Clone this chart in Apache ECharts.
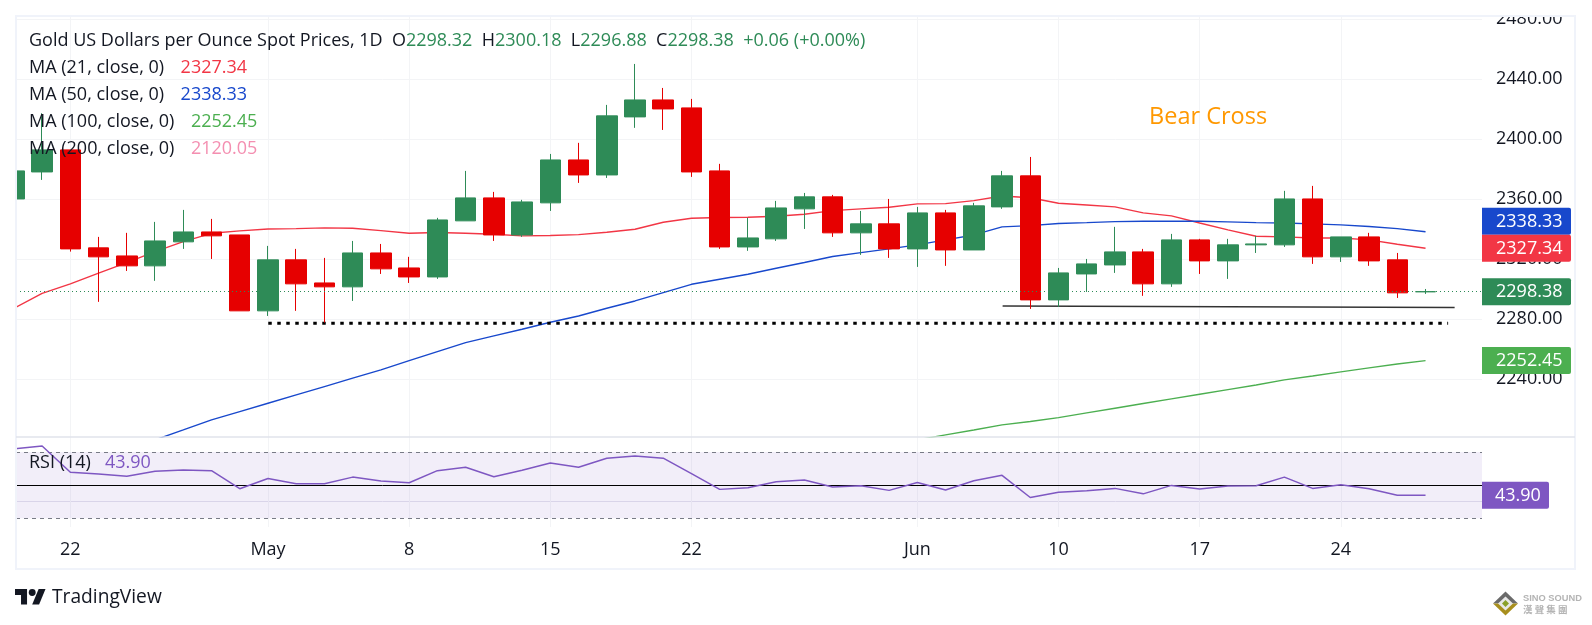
<!DOCTYPE html>
<html>
<head>
<meta charset="utf-8">
<title>Gold spot daily</title>
<style>
  html, body { margin: 0; padding: 0; background: #fff; }
  #main { width: 1592px; height: 625px; }
</style>
<script src="https://cdn.jsdelivr.net/npm/echarts@6/dist/echarts.min.js"></script>
</head>
<body>
<div id="main"></div>
<script>
const dates = ['Apr 18','Apr 19','Apr 22','Apr 23','Apr 24','Apr 25','Apr 26','Apr 29','Apr 30','May 1','May 2','May 3','May 6','May 7','May 8','May 9','May 10','May 13','May 14','May 15','May 16','May 17','May 20','May 21','May 22','May 23','May 24','May 27','May 28','May 29','May 30','May 31','Jun 3','Jun 4','Jun 5','Jun 6','Jun 7','Jun 10','Jun 11','Jun 12','Jun 13','Jun 14','Jun 17','Jun 18','Jun 19','Jun 20','Jun 21','Jun 24','Jun 25','Jun 26','Jun 27'];
const opens = [2360.2,2378.2,2392.9,2327.6,2322.2,2315.6,2331.6,2338.2,2336.2,2285.6,2319.6,2304.2,2301.6,2324.2,2314.2,2308.2,2345.6,2360.9,2336.2,2357.6,2386.2,2376.2,2414.9,2426.2,2420.9,2378.9,2328.2,2333.6,2353.6,2361.6,2337.6,2343.6,2326.9,2350.9,2326.2,2354.9,2375.6,2292.9,2310.2,2316.2,2324.9,2303.6,2332.9,2318.9,2329.6,2329.6,2360.2,2321.6,2334.9,2319.6,2298.32];
const closes = [2378.9,2392.9,2326.9,2321.6,2315.6,2332.2,2338.2,2335.6,2285.6,2319.6,2303.6,2301.6,2324.2,2313.6,2308.2,2346.2,2360.9,2336.2,2358.2,2386.2,2376.2,2415.6,2426.2,2420.2,2378.2,2328.2,2334.2,2354.2,2361.6,2337.6,2343.6,2326.9,2350.9,2326.2,2355.6,2375.6,2292.9,2310.9,2316.9,2324.9,2303.6,2332.9,2318.9,2329.6,2330.2,2360.2,2321.6,2334.9,2318.9,2297.6,2298.38];
const lows = [2358,2372.9,2325.1,2291.6,2312.2,2305.6,2326.9,2320.2,2285.6,2282.2,2285.6,2277.8,2292.2,2310.2,2304.2,2306.9,2345.6,2332.2,2334.9,2352.2,2370.9,2374.2,2407.6,2406.2,2374.9,2326.9,2325.6,2332.2,2340.2,2334.9,2322.9,2320.9,2314.9,2315.6,2326.2,2353.6,2286.9,2288.2,2298.2,2310.9,2295.6,2301.6,2310.2,2306.9,2324.2,2328.2,2316.9,2318.2,2315.6,2294.2,2296.88];
const highs = [2380,2417.3,2392.9,2334.9,2337.6,2344.9,2352.9,2346.9,2336.2,2328.9,2326.9,2320.9,2332.2,2330.2,2321.6,2347.6,2378.9,2364.9,2359.6,2390.2,2397.6,2422.9,2450.2,2434.2,2426.9,2383.6,2347.6,2358.9,2364.2,2362.9,2352.2,2360.2,2354.9,2352.9,2357.6,2378.9,2388.2,2314.2,2320.2,2341.6,2326.9,2336.9,2333.6,2333.6,2335.6,2365.6,2368.9,2334.9,2337.6,2324.2,2300.18];

const ma21 = [2287.3,2297.3,2303.6,2310.7,2317.8,2325.1,2331.8,2337.3,2338.9,2340.2,2340.4,2340.9,2340.7,2339.1,2337.3,2337.8,2337.3,2336.7,2335.6,2335.8,2336.4,2338,2340,2344.7,2347.3,2347.8,2348,2348.7,2350,2352.4,2353.6,2354.7,2356.9,2357.1,2359.1,2362.2,2361,2357.3,2356.2,2354.9,2350.9,2348.9,2344.2,2339.6,2335.3,2334.9,2334.2,2334.2,2332.9,2330,2327.34];
const ma50Start = 4;
const ma50 = [2192.9,2199.6,2206.2,2212.9,2218.4,2224,2229.6,2235.1,2240.7,2246.2,2252.4,2258.4,2264.4,2268.9,2273.3,2278,2282.2,2287.3,2292.2,2297.8,2303.3,2306.7,2310,2314,2317.8,2321.8,2324.4,2326.9,2329.6,2332.9,2336.2,2341.6,2342.4,2343.8,2344.4,2345.1,2345.3,2345.3,2345.3,2344.9,2344.4,2344.2,2343.6,2342.9,2341.8,2340.4,2338.33];
const ma100Start = 32;
const ma100 = [2199.6,2202.9,2206.2,2209.6,2211.8,2214.4,2217.6,2220.7,2223.8,2226.9,2230,2233.1,2236.2,2239.6,2242.2,2244.9,2247.6,2250.2,2252.45];
const rsi = [71.8,73.6,57.7,56.7,55.3,58.3,59.1,58.7,47.8,54,50.8,50.8,54.8,52.4,51.4,58.7,60.7,55,58.9,63.3,60.7,66.2,67.6,66.2,56.9,47.4,48.4,52,53,48.8,49.6,46.8,51.6,47,52.6,55.9,42.5,45.6,46.6,48,44.7,49.8,47.6,49.4,49.6,54.8,48,50.2,47.8,43.9,43.9];

const priceTicks = [2240,2280,2320,2360,2400,2440,2480];
const tickDates = ['Apr 22','May 1','May 8','May 15','May 22','Jun 3','Jun 10','Jun 17','Jun 24'];
const tickLabels = ['22','May','8','15','22','Jun','10','17','24'];

// drawn on the chart by hand in the original: [x index, price]
const supportDotted = [[9.01,2277.3],[50.8,2277.3]];
const supportLine = [[35.02,2288.9],[51.03,2287.8]];

const tagValues = [2338.33,2327.34,2298.38,2252.45];
const tagColors = ['#1848cc','#f23645','#2e8b57','#4caf50'];
const rsiLast = 43.90;

const upColor = '#2e8b57';
const downColor = '#e60000';
const gridColor = '#f3f4f6';
const textColor = '#131722';
const fontName = '"Open Sans"';
const legendFont = '18px ' + fontName;

const tickIndex = tickDates.map(function (d) { return dates.indexOf(d); });

function withIndex(list, start) {
  return list.map(function (v, i) { return [i + start, v]; });
}

function candleData() {
  return dates.map(function (d, i) {
    return [i, opens[i], closes[i], lows[i], highs[i]];
  });
}

function lineSeries(name, list, start, color) {
  return {
    name: name,
    type: 'line',
    data: withIndex(list, start),
    showSymbol: false,
    silent: true,
    z: 3,
    lineStyle: { color: color, width: 1.4 }
  };
}

function drawnLine(name, points, style) {
  return {
    name: name,
    type: 'line',
    data: points,
    showSymbol: false,
    silent: true,
    z: 4,
    lineStyle: style
  };
}

// price labels on the right, pushed up when they would overlap the one below
function tagY(api, dataIndex) {
  const h = 27;
  const ys = tagValues.map(function (v) { return api.coord([0, v])[1]; });
  for (let i = ys.length - 2; i >= 0; i--) {
    if (ys[i] > ys[i + 1] - h) ys[i] = ys[i + 1] - h;
  }
  return ys[dataIndex];
}

function renderTag(params, api) {
  const x = params.coordSys.x + params.coordSys.width;
  const y = tagY(api, params.dataIndex);
  return {
    type: 'group',
    children: [{
      type: 'rect',
      shape: { x: x, y: y - 13.5, width: 89, height: 27, r: [0, 2, 2, 0] },
      style: { fill: tagColors[params.dataIndex] }
    }, {
      type: 'text',
      style: {
        x: x + 14, y: y + 0.5, text: api.value(0).toFixed(2),
        fill: '#fff', font: '18px ' + fontName, align: 'left', verticalAlign: 'middle'
      }
    }]
  };
}

function renderRsiTag(params, api) {
  const x = params.coordSys.x + params.coordSys.width;
  const y = api.coord([0, api.value(0)])[1];
  return {
    type: 'group',
    children: [{
      type: 'rect',
      shape: { x: x, y: y - 13.5, width: 67, height: 27, r: [0, 2, 2, 0] },
      style: { fill: '#7e57c2' }
    }, {
      type: 'text',
      style: {
        x: x + 13, y: y + 0.5, text: api.value(0).toFixed(2),
        fill: '#fff', font: '18px ' + fontName, align: 'left', verticalAlign: 'middle'
      }
    }]
  };
}

function legendRun(str, style) {
  return '{' + style + '|' + str + '}';
}

function legendText(x, y, text) {
  const pad = [0, 0, 0, 2.5];
  return {
    type: 'text',
    x: x,
    y: y,
    z: 50,
    silent: true,
    style: {
      text: text,
      font: legendFont,
      fill: textColor,
      verticalAlign: 'middle',
      rich: {
        k: { fill: textColor, font: legendFont },
        g: { fill: upColor, font: legendFont },
        r: { fill: '#f23645', font: legendFont, padding: pad },
        b: { fill: '#1848cc', font: legendFont, padding: pad },
        l: { fill: '#4caf50', font: legendFont, padding: pad },
        p: { fill: '#f48fb1', font: legendFont, padding: pad },
        v: { fill: '#7e57c2', font: legendFont }
      }
    }
  };
}

const xAxisCommon = {
  type: 'value',
  min: 0.075,
  max: 52,
  axisLine: { show: false },
  axisTick: { show: false, customValues: tickIndex },
  splitLine: { show: true, lineStyle: { color: gridColor, width: 1 } }
};

const option = {
  animation: false,
  backgroundColor: '#fff',
  textStyle: { fontFamily: fontName },
  grid: [
    { left: 16, right: 110, top: 17, height: 420 },
    { left: 16, right: 110, top: 437, height: 90 }
  ],
  xAxis: [
    Object.assign({ gridIndex: 0, axisLabel: { show: false, customValues: tickIndex } }, xAxisCommon),
    Object.assign({
      gridIndex: 1,
      axisLabel: {
        show: true,
        customValues: tickIndex,
        margin: 14,
        color: textColor,
        fontSize: 18,
        fontFamily: fontName,
        formatter: function (v) { return tickLabels[tickIndex.indexOf(v)]; }
      }
    }, xAxisCommon)
  ],
  yAxis: [{
    gridIndex: 0,
    type: 'value',
    position: 'right',
    min: 2201.5,
    max: 2481.5,
    axisLine: { show: false },
    axisTick: { show: false, customValues: priceTicks },
    axisLabel: {
      customValues: priceTicks,
      margin: 14,
      padding: [3, 0, 0, 0],
      color: textColor,
      fontSize: 18,
      fontFamily: fontName,
      formatter: function (v) { return v.toFixed(2); }
    },
    splitLine: { show: true, lineStyle: { color: gridColor, width: 1 } }
  }, {
    gridIndex: 1,
    type: 'value',
    position: 'right',
    min: 24.7,
    max: 79,
    axisLine: { show: false },
    axisTick: { show: false, customValues: [40] },
    axisLabel: { show: false, customValues: [40] },
    splitLine: { show: true, lineStyle: { color: '#e4e3ee', width: 1 } }
  }],
  series: [
    {
      name: 'Gold',
      type: 'candlestick',
      xAxisIndex: 0,
      yAxisIndex: 0,
      data: candleData(),
      encode: { x: 0, y: [1, 2, 3, 4] },
      barWidth: 21,
      silent: true,
      z: 5,
      itemStyle: {
        color: upColor,
        color0: downColor,
        borderColor: upColor,
        borderColor0: downColor,
        borderWidth: 1
      },
      markLine: {
        silent: true,
        symbol: 'none',
        label: { show: false },
        z: 6,
        lineStyle: { color: upColor, type: [1, 3], width: 1 },
        data: [{ yAxis: closes[closes.length - 1] }]
      }
    },
    lineSeries('MA 21', ma21, 0, '#f23645'),
    lineSeries('MA 50', ma50, ma50Start, '#1848cc'),
    lineSeries('MA 100', ma100, ma100Start, '#4caf50'),
    drawnLine('Support dotted', supportDotted, { color: '#000', width: 3, type: [3.5, 5.5] }),
    drawnLine('Support line', supportLine, { color: '#333', width: 1.5 }),
    {
      name: 'Tags',
      type: 'custom',
      xAxisIndex: 0,
      yAxisIndex: 0,
      clip: false,
      silent: true,
      z: 20,
      encode: { y: 0 },
      data: tagValues.map(function (v) { return [v]; }),
      renderItem: renderTag
    },
    {
      name: 'RSI',
      type: 'line',
      xAxisIndex: 1,
      yAxisIndex: 1,
      data: withIndex(rsi, 0),
      showSymbol: false,
      silent: true,
      z: 5,
      lineStyle: { color: '#7e57c2', width: 1.5 },
      markArea: {
        silent: true,
        itemStyle: { color: 'rgba(126,87,194,0.1)' },
        data: [[{ yAxis: 30 }, { yAxis: 70 }]]
      },
      markLine: {
        silent: true,
        symbol: 'none',
        label: { show: false },
        data: [
          { yAxis: 70, lineStyle: { color: '#787b86', type: [4, 4], width: 1 } },
          { yAxis: 50, lineStyle: { color: '#000', type: 'solid', width: 1 } },
          { yAxis: 30, lineStyle: { color: '#787b86', type: [4, 4], width: 1 } }
        ]
      }
    },
    {
      name: 'RSI tag',
      type: 'custom',
      xAxisIndex: 1,
      yAxisIndex: 1,
      clip: false,
      silent: true,
      z: 20,
      encode: { y: 0 },
      data: [[rsiLast]],
      renderItem: renderRsiTag
    }
  ],
  graphic: {
    elements: [
      // the candlestick series and the top axis label are not cut at the pane edge
      {
        type: 'rect', z: 39, silent: true,
        shape: { x: 0, y: 0, width: 16, height: 570 },
        style: { fill: '#fff' }
      },
      {
        type: 'rect', z: 39, silent: true,
        shape: { x: 0, y: 0, width: 1592, height: 16 },
        style: { fill: '#fff' }
      },
      {
        type: 'rect', z: 40, silent: true,
        shape: { x: 16, y: 16, width: 1559, height: 553 },
        style: { fill: 'none', stroke: '#f0f3fa', lineWidth: 2 }
      },
      {
        type: 'line', z: 40, silent: true,
        shape: { x1: 16, y1: 437, x2: 1575, y2: 437 },
        style: { stroke: '#e0e3eb', lineWidth: 1.5 }
      },
      legendText(29, 41,
        legendRun('Gold US Dollars per Ounce Spot Prices, 1D  O', 'k') + legendRun('2298.32', 'g') +
        legendRun('  H', 'k') + legendRun('2300.18', 'g') +
        legendRun('  L', 'k') + legendRun('2296.88', 'g') +
        legendRun('  C', 'k') + legendRun('2298.38', 'g') +
        legendRun('  +0.06 (+0.00%)', 'g')),
      legendText(29, 68, legendRun('MA (21, close, 0)   ', 'k') + legendRun('2327.34', 'r')),
      legendText(29, 95, legendRun('MA (50, close, 0)   ', 'k') + legendRun('2338.33', 'b')),
      legendText(29, 122, legendRun('MA (100, close, 0)   ', 'k') + legendRun('2252.45', 'l')),
      legendText(29, 149, legendRun('MA (200, close, 0)   ', 'k') + legendRun('2120.05', 'p')),
      legendText(29, 463, legendRun('RSI (14)   ', 'k') + legendRun('43.90', 'v')),
      {
        type: 'text', x: 1149, y: 117, z: 50, silent: true,
        style: { text: 'Bear Cross', font: '23.5px ' + fontName, fill: '#ff9800', verticalAlign: 'middle' }
      },
      {
        type: 'group', z: 50, silent: true, x: 15, y: 585.6, scaleX: 0.86, scaleY: 0.86,
        children: [
          {
            type: 'polygon', z: 50,
            shape: { points: [[0, 4], [14, 4], [14, 22], [7, 22], [7, 11], [0, 11]] },
            style: { fill: textColor }
          },
          {
            type: 'polygon', z: 50,
            shape: { points: [[20, 22], [27.5, 4], [35.5, 4], [28, 22]] },
            style: { fill: textColor }
          },
          {
            type: 'circle', z: 50,
            shape: { cx: 20, cy: 8, r: 4 },
            style: { fill: textColor }
          }
        ]
      },
      {
        type: 'text', x: 52, y: 598, z: 50, silent: true,
        style: { text: 'TradingView', font: '19.2px ' + fontName, fill: textColor, verticalAlign: 'middle' }
      },
      {
        type: 'polygon', z: 50, silent: true,
        shape: { points: [[1493, 603.5], [1505.5, 591.5], [1518, 603.5]] },
        style: { fill: '#6a6a6a' }
      },
      {
        type: 'polygon', z: 50, silent: true,
        shape: { points: [[1493, 603.5], [1505.5, 615.5], [1518, 603.5]] },
        style: { fill: '#a88f1e' }
      },
      {
        type: 'polygon', z: 51, silent: true,
        shape: { points: [[1498, 603.5], [1505.5, 596.5], [1513, 603.5], [1505.5, 610.5]] },
        style: { fill: '#e8e8e8' }
      },
      {
        type: 'polygon', z: 52, silent: true,
        shape: { points: [[1502, 603.5], [1505.5, 600], [1509, 603.5], [1505.5, 607]] },
        style: { fill: '#8aa02a' }
      },
      {
        type: 'text', x: 1523, y: 598, z: 50, silent: true,
        style: { text: 'SINO SOUND', font: 'bold 9.3px "Liberation Sans"', fill: '#b4b4b4', verticalAlign: 'middle' }
      },
      {
        type: 'text', x: 1523, y: 609, z: 50, silent: true,
        style: { text: '漢 聲 集 團', font: 'bold 9.5px "Noto Sans CJK TC"', fill: '#b4b4b4', verticalAlign: 'middle' }
      }
    ]
  }
};

const chart = echarts.init(document.getElementById('main'), null, { renderer: 'canvas' });
chart.setOption(option);
</script>
</body>
</html>
